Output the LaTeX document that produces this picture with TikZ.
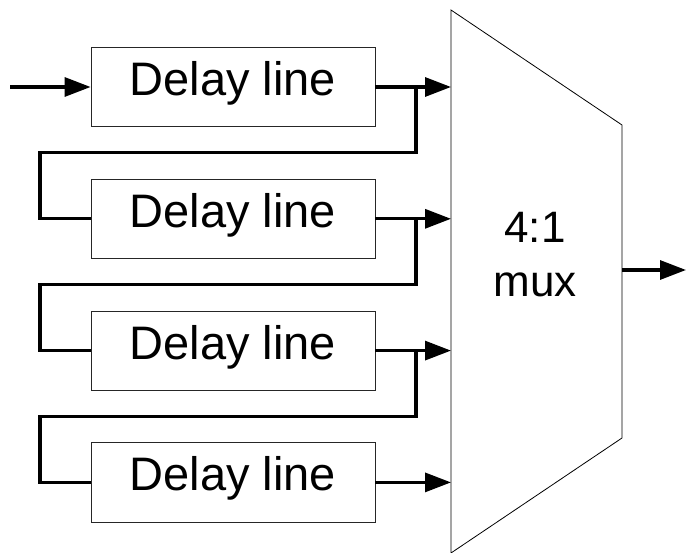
\documentclass[tikz,border=0pt]{standalone}
\usepackage{fontspec}
\setmainfont{Liberation Sans}
\usetikzlibrary{arrows.meta,calc,positioning}

\begin{document}
\begin{tikzpicture}[x=1pt, y=-1pt, >={Triangle[length=26pt,width=19pt]},
    delay/.style={draw=black!85, line width=0.8pt, minimum width=284pt,
      minimum height=79pt, inner sep=0pt, text height=35pt, text depth=18pt,
      font=\fontsize{47}{54}\selectfont},
    wire/.style={line width=3.2pt}]
    \useasboundingbox (0,0) rectangle (686,553);

    % delay lines
    \node[delay] (d1) at (233,87) {Delay line};
    \node[delay, below=52pt of d1] (d2) {Delay line};
    \node[delay, below=52pt of d2] (d3) {Delay line};
    \node[delay, below=52pt of d3] (d4) {Delay line};

    % mux
    \draw[line width=0.8pt] (451,10) -- (622,125) -- (622,438) -- (451,553) -- cycle;
    \node[font=\fontsize{44}{54}\selectfont, align=center, anchor=base] (mux) at (535,297) {4:1\\mux};
    \coordinate (ml) at (451,0);
    \coordinate (mr) at (622,0);

    \coordinate (in) at (10,87);
    \coordinate (out) at (686,270);
    \coordinate (jx) at (416,0);
    \coordinate (lx) at (40,0);

    \draw[wire, ->] (in) -- (d1.west);
    \foreach \i in {1,...,4}
        \draw[wire, ->] (d\i.east) -- (d\i.east -| ml);
    \foreach \i/\j in {1/2, 2/3, 3/4} {
        \coordinate (l\i) at ($(d\i.south)!0.5!(d\j.north)$);
        \draw[wire] (d\i.east -| jx) |- (l\i -| lx) |- (d\j.west);
    }
    \draw[wire, ->] (out -| mr) -- (out);
\end{tikzpicture}
\end{document}
